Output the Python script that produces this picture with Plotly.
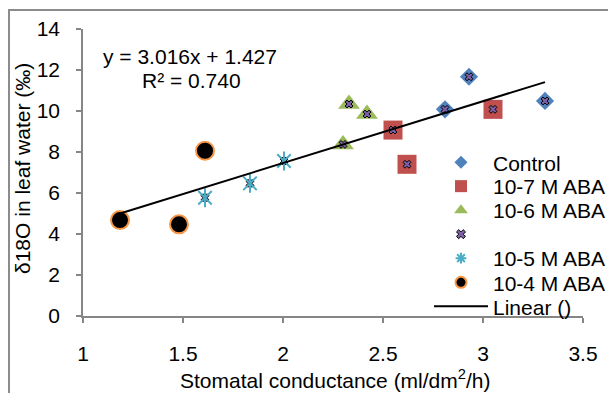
import plotly.graph_objects as go

FONT = "Liberation Sans, Arial, sans-serif"
W, H = 608, 393
ML, MR, MT, MB = 83, 25, 29, 77
PW, PH = W - ML - MR, H - MT - MB

# ---- data ----
control_x = [2.81, 2.93, 3.31]
control_y = [10.08, 11.67, 10.49]
aba7_x = [2.55, 2.62, 3.05]
aba7_y = [9.07, 7.40, 10.08]
aba6_x = [2.30, 2.33, 2.42]
aba6_y = [8.37, 10.34, 9.85]
aba5_x = [1.61, 1.835, 2.005]
aba5_y = [5.77, 6.47, 7.56]
aba4_x = [1.185, 1.48, 1.61]
aba4_y = [4.68, 4.47, 8.06]
all_x = control_x + aba7_x + aba6_x + aba5_x + aba4_x
all_y = control_y + aba7_y + aba6_y + aba5_y + aba4_y
slope, intercept, r2 = 3.016, 1.427, 0.740

series_names = ["Control", "10-7 M ABA", "10-6 M ABA", " ", "10-5 M ABA", "10-4 M ABA", "Linear ()"]
x_title = "Stomatal conductance (ml/dm<sup>2</sup>/h)"
y_title = "δ18O in leaf water (‰)"

BLUE, RED, GREEN, PURPLE, TEAL, ORANGE = "#4F81BD", "#C0504D", "#9BBB59", "#7D5FA6", "#4BACC6", "#F79646"


def pxx(px):
    return (px - ML) / PW


def pxy(py):
    return (H - MB - py) / PH


fig = go.Figure()
fig.add_trace(go.Scatter(x=control_x, y=control_y, mode="markers", showlegend=False,
                         marker=dict(symbol="diamond", size=14, color=BLUE, line=dict(width=0))))
fig.add_trace(go.Scatter(x=aba7_x, y=aba7_y, mode="markers", showlegend=False,
                         marker=dict(symbol="square", size=19, color=RED, line=dict(width=0))))
fig.add_trace(go.Scatter(x=aba6_x, y=aba6_y, mode="markers", showlegend=False,
                         marker=dict(symbol="triangle-up", size=19, color=GREEN, line=dict(width=0))))
fig.add_trace(go.Scatter(x=all_x, y=all_y, mode="markers", showlegend=False,
                         marker=dict(symbol="x", size=7, color=PURPLE, line=dict(width=1, color="#000000"))))
fig.add_trace(go.Scatter(x=aba5_x, y=aba5_y, mode="markers", showlegend=False,
                         marker=dict(symbol="x-thin-open", size=13.5, color=TEAL, line=dict(width=2, color=TEAL))))
fig.add_trace(go.Scatter(x=aba5_x, y=aba5_y, mode="markers", showlegend=False,
                         marker=dict(symbol="line-ns-open", size=13.5, color=TEAL, line=dict(width=2, color=TEAL))))
fig.add_trace(go.Scatter(x=aba4_x, y=aba4_y, mode="markers", showlegend=False,
                         marker=dict(symbol="circle", size=18, color="#000000", line=dict(width=2, color=ORANGE))))
tx = [min(all_x), max(all_x)]
ty = [slope * v + intercept for v in tx]
fig.add_trace(go.Scatter(x=tx, y=ty, mode="lines", showlegend=False,
                         line=dict(color="#000000", width=2)))

# legend entries (one legend per row so the row pitch matches the reference)
legend_markers = [
    dict(symbol="diamond", size=10, color=BLUE, line=dict(width=0)),
    dict(symbol="square", size=12, color=RED, line=dict(width=0)),
    dict(symbol="triangle-up", size=12, color=GREEN, line=dict(width=0)),
    dict(symbol="x", size=8, color=PURPLE, line=dict(width=1, color="#000000")),
    dict(symbol="asterisk-open", size=9, color=TEAL, line=dict(width=2, color=TEAL)),
    dict(symbol="circle", size=11, color="#000000", line=dict(width=2, color=ORANGE)),
]
row_py = [162.7, 186.5, 210.5, 234.5, 258.5, 282.7, 306.7]
legend_ids = ["legend"] + ["legend%d" % i for i in range(2, 8)]
for i, name in enumerate(series_names):
    if i < 6:
        fig.add_trace(go.Scatter(x=[None], y=[None], mode="markers", name=name,
                                 legend=legend_ids[i], marker=legend_markers[i]))
    else:
        fig.add_trace(go.Scatter(x=[None], y=[None], mode="lines", name=name,
                                 legend=legend_ids[i], line=dict(color="#000000", width=2)))

legend_layout = {}
for i, lid in enumerate(legend_ids):
    legend_layout[lid] = dict(x=pxx(429), y=pxy(row_py[i]), xanchor="left", yanchor="middle",
                              xref="paper", yref="paper",
                              font=dict(family=FONT, size=21, color="#000000"),
                              itemwidth=54, bgcolor="rgba(0,0,0,0)", borderwidth=0)

axis_common = dict(showgrid=False, zeroline=False, showline=True, linecolor="#868686", linewidth=1.5,
                   ticks="outside", ticklen=5, tickwidth=1.5, tickcolor="#868686",
                   tickfont=dict(family=FONT, size=21, color="#000000"))

fig.update_layout(
    width=W, height=H,
    margin=dict(l=ML, r=MR, t=MT, b=MB, autoexpand=False),
    paper_bgcolor="#ffffff", plot_bgcolor="#ffffff",
    font=dict(family=FONT, size=21, color="#000000"),
    xaxis=dict(range=[1, 3.5], dtick=0.5, tick0=1, ticklabelstandoff=13, **axis_common),
    yaxis=dict(range=[0, 14], dtick=2, tick0=0, ticklabelstandoff=12, **axis_common),
    **legend_layout,
)

fig.add_shape(type="rect", xref="paper", yref="paper",
              x0=pxx(9), x1=pxx(800), y0=pxy(700), y1=pxy(10),
              line=dict(color="#8c8c8c", width=2), fillcolor="rgba(0,0,0,0)", layer="below")

fig.add_annotation(text="y = %.3fx + %.3f" % (slope, intercept), x=pxx(190), y=pxy(57),
                   xref="paper", yref="paper", showarrow=False, xanchor="center", yanchor="middle",
                   font=dict(family=FONT, size=21, color="#000000"))
fig.add_annotation(text="R² = %.3f" % r2, x=pxx(191.5), y=pxy(80),
                   xref="paper", yref="paper", showarrow=False, xanchor="center", yanchor="middle",
                   font=dict(family=FONT, size=21, color="#000000"))
fig.add_annotation(text=x_title, x=pxx(334.5), y=pxy(379), xref="paper", yref="paper",
                   showarrow=False, xanchor="center", yanchor="middle",
                   font=dict(family=FONT, size=21, color="#000000"))
fig.add_annotation(text=y_title, x=pxx(22), y=pxy(169), xref="paper", yref="paper",
                   showarrow=False, xanchor="center", yanchor="middle", textangle=-90,
                   font=dict(family=FONT, size=21, color="#000000"))

fig.write_html("out.html")
